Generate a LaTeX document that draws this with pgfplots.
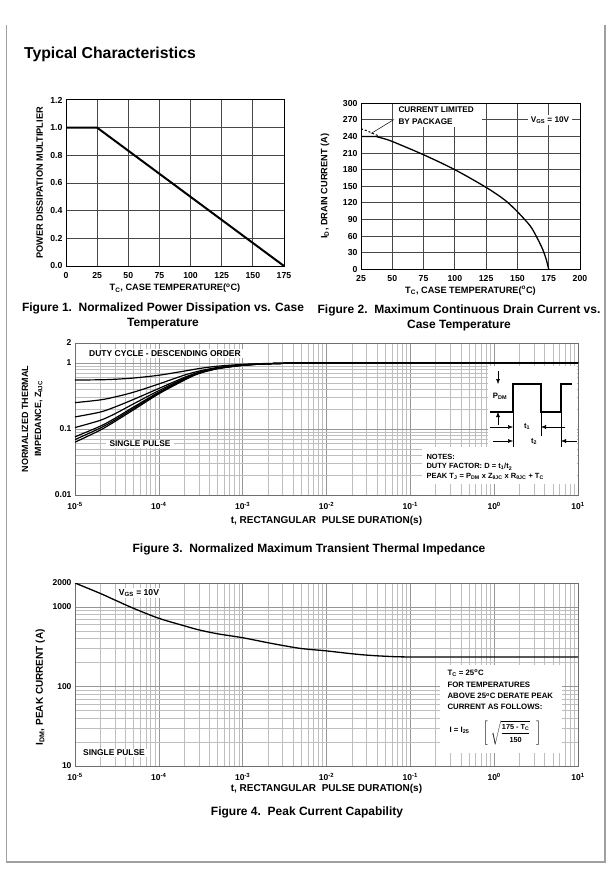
\documentclass[border=0pt]{standalone}
\usepackage{fontspec}
\setmainfont{Liberation Sans}
\usepackage{amsmath}
\usepackage{pgfplots}
\pgfplotsset{compat=1.18}
\usetikzlibrary{arrows.meta}

\newcommand{\fs}[1]{\fontsize{#1}{#1}\selectfont\bfseries}
\definecolor{gridd}{HTML}{484848}
\definecolor{gmaj}{HTML}{969696}
\definecolor{gmin}{HTML}{BEBEBE}
\definecolor{axc}{HTML}{6E6E6E}
\definecolor{framec}{HTML}{A0A0A0}

\pgfplotsset{
  linax/.style={scale only axis,
    axis line style={black, line width=1pt},
    grid=major, major grid style={gridd, line width=1pt},
    major tick length=0pt,
    tick label style={font=\fs{8.7}},
    label style={font=\fs{9.2}, anchor=center},
    /pgf/number format/assume math mode=true,
    xticklabel style={yshift=-2.5pt},
  },
  logax/.style={scale only axis,
    axis line style={axc, line width=0.6pt},
    grid=both, major grid style={gmaj, line width=0.5pt},
    minor grid style={gmin, line width=0.45pt},
    major tick length=0pt, minor tick length=0pt,
    xmin=1e-5, xmax=10,
    xtick={1e-5,1e-4,1e-3,1e-2,1e-1,1,10},
    xticklabels={10\textsuperscript{-5},10\textsuperscript{-4},10\textsuperscript{-3},10\textsuperscript{-2},10\textsuperscript{-1},10\textsuperscript{0},10\textsuperscript{1}},
    minor xtick={2e-5,3e-5,4e-5,5e-5,6e-5,7e-5,8e-5,9e-5,2e-4,3e-4,4e-4,5e-4,6e-4,7e-4,8e-4,9e-4,2e-3,3e-3,4e-3,5e-3,6e-3,7e-3,8e-3,9e-3,2e-2,3e-2,4e-2,5e-2,6e-2,7e-2,8e-2,9e-2,0.2,0.3,0.4,0.5,0.6,0.7,0.8,0.9,2,3,4,5,6,7,8,9},
    tick label style={font=\fs{8.5}},
    xticklabel style={anchor=base, yshift=-14pt},
    label style={font=\fs{10}, anchor=center},
    xlabel={t, RECTANGULAR\ \ PULSE DURATION(s)},
  },
}

\begin{document}
\begin{tikzpicture}
\useasboundingbox (0,0) rectangle (611pt,-877pt);
\fill[white] (0,0) rectangle (611pt,-877pt);
\draw[framec, line width=1.5pt] (6.5pt,-25pt) -- (6.5pt,-862pt) -- (605pt,-862pt) -- (605pt,-25pt);
\node[anchor=west, font=\fs{15.8}] at (20.5pt,-54pt) {Typical Characteristics};

% Figure 1
\begin{axis}[linax, width=218pt, height=166pt, at={(66pt,-266pt)}, anchor=south west,
  xmin=0, xmax=175, ymin=0, ymax=1.2,
  xtick={0,25,50,75,100,125,150,175}, ytick={0,0.2,0.4,0.6,0.8,1,1.2},
  yticklabel style={/pgf/number format/.cd, fixed, fixed zerofill, precision=1},
  xlabel={T\textsubscript{C}, CASE TEMPERATURE(\textsuperscript{o}C)},
  ylabel={POWER DISSIPATION MULTIPLIER},
  xlabel style={at={(axis description cs:0.5,-0.134)}},
  ylabel style={at={(axis description cs:-0.121,0.5)}},
]
\addplot[black, line width=2pt] coordinates {(0,1) (25,1) (175,0)};
\end{axis}

% Figure 2
\begin{axis}[linax, width=219pt, height=166pt, at={(361pt,-269.3pt)}, anchor=south west,
  xmin=25, xmax=200, ymin=0, ymax=300,
  xtick={25,50,75,100,125,150,175,200}, ytick={0,30,60,90,120,150,180,210,240,270,300},
  xlabel={T\textsubscript{C}, CASE TEMPERATURE(\textsuperscript{o}C)},
  ylabel={I\textsubscript{D}, DRAIN CURRENT (A)},
  xlabel style={at={(axis description cs:0.5,-0.129)}},
  ylabel style={at={(axis description cs:-0.164,0.5)}},
]
\addplot[black, line width=1.3pt, smooth, tension=0.5] coordinates {(25,240) (37,240) (42,237) (50,231) (75,207) (100,180) (125,148) (140,125) (150,104) (160,79) (165,60) (170,37) (173,18) (175,0)};
\addplot[black, line width=1pt, dash pattern=on 2pt off 2pt, smooth] coordinates {(25,254) (29,251) (33,247) (37,243) (40,241)};
\end{axis}

% Figure 3
\begin{loglogaxis}[logax, width=503pt, height=152pt, at={(75pt,-495pt)}, anchor=south west,
  ymin=0.01, ymax=2, ytick={0.01,0.1,1,2}, yticklabels={0.01,0.1,1,2},
  minor ytick={0.02,0.03,0.04,0.05,0.06,0.07,0.08,0.09,0.2,0.3,0.4,0.5,0.6,0.7,0.8,0.9},
  ylabel={NORMALIZED THERMAL\\IMPEDANCE, Z\textsubscript{θJC}},
  ylabel style={align=center, font=\fontsize{9}{13}\selectfont\bfseries, at={(axis description cs:-0.085,0.5)}},
  xlabel style={at={(axis description cs:0.5,-0.171)}},
]
\addplot[black, line width=1.2pt, smooth, tension=0.5] coordinates {(1e-5,0.55) (2e-5,0.555) (3e-5,0.565) (5e-5,0.59) (1e-4,0.65) (2e-4,0.75) (3e-4,0.82) (5e-4,0.89) (1e-3,0.95) (2e-3,0.98) (5e-3,1.0) (1e-2,1.0) (0.1,1.0) (10,1.0)};
\addplot[black, line width=1.2pt, smooth, tension=0.5] coordinates {(1e-5,0.25) (2e-5,0.275) (3e-5,0.305) (5e-5,0.36) (1e-4,0.48) (2e-4,0.65) (3e-4,0.75) (5e-4,0.85) (1e-3,0.93) (2e-3,0.97) (5e-3,0.995) (1e-2,1.0) (0.1,1.0) (10,1.0)};
\addplot[black, line width=1.2pt, smooth, tension=0.5] coordinates {(1e-5,0.152) (2e-5,0.18) (3e-5,0.215) (5e-5,0.28) (1e-4,0.41) (2e-4,0.6) (3e-4,0.72) (5e-4,0.84) (1e-3,0.93) (2e-3,0.97) (5e-3,0.995) (1e-2,1.0) (0.1,1.0) (10,1.0)};
\addplot[black, line width=1.2pt, smooth, tension=0.5] coordinates {(1e-5,0.105) (2e-5,0.135) (3e-5,0.17) (5e-5,0.24) (1e-4,0.38) (2e-4,0.58) (3e-4,0.71) (5e-4,0.83) (1e-3,0.925) (2e-3,0.97) (5e-3,0.995) (1e-2,1.0) (0.1,1.0) (10,1.0)};
\addplot[black, line width=1.2pt, smooth, tension=0.5] coordinates {(1e-5,0.076) (2e-5,0.11) (3e-5,0.145) (5e-5,0.215) (1e-4,0.36) (2e-4,0.565) (3e-4,0.70) (5e-4,0.825) (1e-3,0.92) (2e-3,0.97) (5e-3,0.995) (1e-2,1.0) (0.1,1.0) (10,1.0)};
\addplot[black, line width=1.2pt, smooth, tension=0.5] coordinates {(1e-5,0.069) (2e-5,0.103) (3e-5,0.137) (5e-5,0.205) (1e-4,0.35) (2e-4,0.555) (3e-4,0.695) (5e-4,0.82) (1e-3,0.92) (2e-3,0.97) (5e-3,0.995) (1e-2,1.0) (0.1,1.0) (10,1.0)};
\addplot[black, line width=1.2pt, smooth, tension=0.5] coordinates {(1e-5,0.063) (2e-5,0.096) (3e-5,0.13) (5e-5,0.195) (1e-4,0.34) (2e-4,0.545) (3e-4,0.69) (5e-4,0.815) (1e-3,0.915) (2e-3,0.97) (5e-3,0.995) (1e-2,1.0) (0.1,1.0) (10,1.0)};
\end{loglogaxis}

% Figure 4
\begin{loglogaxis}[logax, width=503pt, height=183pt, at={(75pt,-766pt)}, anchor=south west,
  ymin=10, ymax=2000, ytick={10,100,1000,2000}, yticklabels={10,100,1000,2000},
  minor ytick={20,30,40,50,60,70,80,90,200,300,400,500,600,700,800,900},
  ylabel={I\textsubscript{DM}, PEAK CURRENT (A)},
  ylabel style={at={(axis description cs:-0.069,0.43)}},
  xlabel style={at={(axis description cs:0.5,-0.126)}},
]
\addplot[black, line width=1.3pt, smooth, tension=0.5] coordinates {(1e-5,2000) (2e-5,1480) (3e-5,1220) (5e-5,960) (1e-4,720) (2e-4,580) (3e-4,515) (5e-4,460) (1e-3,410) (2e-3,355) (3e-3,328) (5e-3,300) (1e-2,280) (2e-2,258) (3e-2,248) (5e-2,240) (1e-1,235) (1,235) (10,235)};
\end{loglogaxis}

\begin{scope}[x=1pt, y=-1pt]
% Figure 2 notes
\fill[white] (393,104.5) rectangle (482,127.5);
\node[anchor=west, align=left, font=\fontsize{8.2}{11.7}\selectfont\bfseries] at (395,116) {CURRENT LIMITED\\BY PACKAGE};
\draw[line width=0.5pt] (394,119.5) -- (371,133.5);
\node[fill=white, inner xsep=3pt, inner ysep=1.5pt, font=\fs{8.2}] at (550,120) {V\textsubscript{GS} = 10V};
% Figure 3 notes
\node[fill=white, inner xsep=4pt, inner ysep=1.2pt, font=\fs{8.5}] at (165,353.3) {DUTY CYCLE - DESCENDING ORDER};
\node[fill=white, inner xsep=4pt, inner ysep=1.5pt, font=\fs{8.3}] at (140,444) {SINGLE PULSE};
\fill[white] (488,366) rectangle (577,447);
\fill[white] (422,447) rectangle (577,484);
\draw[line width=1.6pt] (490,412) -- (513,412) -- (513,384) -- (541,384) -- (541,412) -- (561,412) -- (561,384) -- (572,384);
\draw[line width=0.5pt] (513,412) -- (513,447) (541,412) -- (541,436) (561,412) -- (561,447);
\draw[line width=0.5pt, -{Latex[length=5pt,width=4pt]}] (498,371) -- (498,384);
\draw[line width=0.5pt, -{Latex[length=5pt,width=4pt]}] (498,425) -- (498,412);
\draw[line width=0.5pt, -{Latex[length=5pt,width=4pt]}] (490,427) -- (513,427);
\draw[line width=0.5pt, -{Latex[length=5pt,width=4pt]}] (565,427) -- (541,427);
\draw[line width=0.5pt, -{Latex[length=5pt,width=4pt]}] (493,441) -- (513,441);
\draw[line width=0.5pt, -{Latex[length=5pt,width=4pt]}] (577,441) -- (561,441);
\node[font=\fs{7.8}] at (500,396.5) {P\textsubscript{DM}};
\node[font=\fs{7.6}] at (527,426.5) {t\textsubscript{1}};
\node[font=\fs{7.6}] at (534,441.5) {t\textsubscript{2}};
\node[anchor=west, font=\fs{7.5}] at (423,456.7) {NOTES:};
\node[anchor=west, font=\fs{7.5}] at (423,466.7) {DUTY FACTOR: D = t\textsubscript{1}/t\textsubscript{2}};
\node[anchor=west, font=\fs{7.5}] at (423,476.7) {PEAK T\textsubscript{J} = P\textsubscript{DM} x Z\textsubscript{θJC} x R\textsubscript{θJC} + T\textsubscript{C}};
% Figure 4 notes
\node[fill=white, inner xsep=3pt, inner ysep=1.5pt, font=\fs{8.6}] at (139,593) {V\textsubscript{GS} = 10V};
\node[fill=white, inner xsep=4pt, inner ysep=1.5pt, font=\fs{8.4}] at (114,753) {SINGLE PULSE};
\fill[white] (440,665) rectangle (562,753);
\node[anchor=west, font=\fs{7.8}, inner ysep=1pt] at (444,673.3) {T\textsubscript{C} = 25\textsuperscript{o}C};
\node[anchor=west, font=\fs{7.8}, inner ysep=1pt] at (444,684.5) {FOR TEMPERATURES};
\node[anchor=west, font=\fs{7.8}, inner ysep=1pt] at (444,696) {ABOVE 25\textsuperscript{o}C DERATE PEAK};
\node[anchor=west, font=\fs{7.8}, inner ysep=1pt] at (444,707) {CURRENT AS FOLLOWS:};
\node[anchor=west, font=\fs{7.8}] at (446,730) {I = I\textsubscript{25}};
\node[font=\fontsize{10}{10}\selectfont, inner sep=0pt] at (512,733) {$\left[\;\sqrt{\dfrac{\text{\fs{7.3}175 - T\textsubscript{C}}}{\text{\fs{7.3}150}}}\;\;\right]$};
% captions
\node[align=center, font=\fontsize{12}{15}\selectfont\bfseries] at (163,315.8) {Figure 1.\ \ Normalized Power Dissipation vs. Case\\Temperature};
\node[align=center, font=\fontsize{12}{15}\selectfont\bfseries] at (459,317.5) {Figure 2.\ \ Maximum Continuous Drain Current vs.\\Case Temperature};
\node[font=\fs{12}] at (309,549) {Figure 3.\ \ Normalized Maximum Transient Thermal Impedance};
\node[font=\fs{12}] at (307,812) {Figure 4.\ \ Peak Current Capability};
\end{scope}
\end{tikzpicture}
\end{document}
